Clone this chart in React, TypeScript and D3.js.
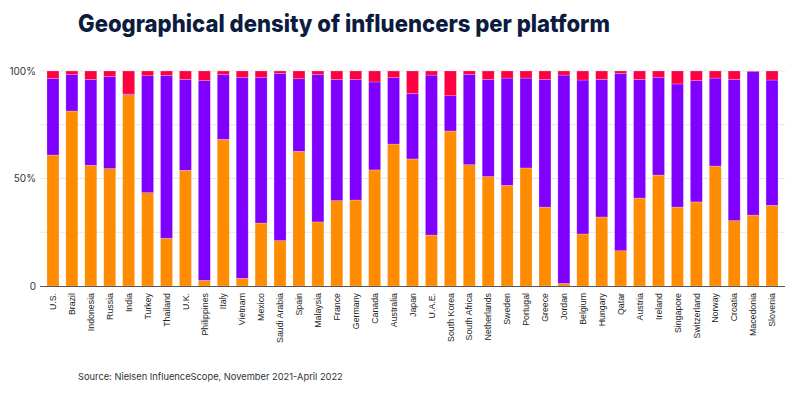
import React, { useRef, useEffect } from "react";
import * as d3 from "d3";

const countries = [
  "U.S.", "Brazil", "Indonesia", "Russia", "India", "Turkey", "Thailand", "U.K.",
  "Philippines", "Italy", "Vietnam", "Mexico", "Saudi Arabia", "Spain", "Malaysia",
  "France", "Germany", "Canada", "Australia", "Japan", "U.A.E.", "South Korea",
  "South Africa", "Netherlands", "Sweden", "Portugal", "Greece", "Jordan", "Belgium",
  "Hungary", "Qatar", "Austria", "Ireland", "Singapore", "Switzerland", "Norway",
  "Croatia", "Macedonia", "Slovenia",
];

// share of influencers (%) per platform, per country
const orangeShare = [
  60.9, 81.4, 56.1, 54.6, 89.0, 43.4, 22.2, 53.8, 2.6, 68.2, 3.6, 29.3, 21.1, 62.6,
  29.8, 39.7, 40.0, 54.0, 66.0, 59.1, 23.7, 72.1, 56.4, 50.9, 46.8, 54.9, 36.7, 1.2,
  24.2, 32.1, 16.4, 40.9, 51.6, 36.7, 39.1, 55.8, 30.4, 33.0, 37.5,
];
const purpleShare = [
  35.7, 16.9, 40.0, 42.8, 0.3, 54.4, 75.8, 42.3, 92.9, 30.1, 93.5, 67.8, 77.8, 33.8,
  68.5, 56.4, 56.1, 40.9, 30.9, 30.5, 74.4, 16.4, 42.0, 45.2, 49.9, 41.8, 59.4, 96.9,
  71.6, 64.0, 82.5, 55.2, 45.5, 57.3, 56.4, 40.9, 65.7, 66.7, 58.3,
];
const redShare = countries.map((_, i) => +(100 - orangeShare[i] - purpleShare[i]).toFixed(1));

const yTicks = [0, 25, 50, 75, 100];
const yLabels = ["0", "", "50%", "", "100%"];

const seriesKeys = ["orange", "purple", "red"];
const colors = ["#ff8c00", "#8000ff", "#ff0040"];

const App = () => {
  const svgRef = useRef<SVGSVGElement>(null);

  useEffect(() => {
    const w = 800;
    const h = 396;
    const svg = d3.select(svgRef.current).attr("width", w).attr("height", h);
    svg.selectAll("*").remove();

    const rows = countries.map((c, i) => ({
      country: c,
      orange: orangeShare[i],
      purple: purpleShare[i],
      red: redShare[i],
    }));

    const x = d3
      .scaleBand()
      .domain(countries)
      .range([39.4, 785.6])
      .paddingInner(0.366)
      .paddingOuter(0.4);
    const y = d3.scaleLinear().domain([0, 100]).range([286, 71]);

    // title
    svg
      .append("text")
      .attr("x", 78)
      .attr("y", 32)
      .attr("font-family", "Inter, sans-serif")
      .attr("font-weight", 800)
      .attr("font-size", 24)
      .attr("fill", "#0b1c3f")
      .attr("textLength", 532)
      .attr("lengthAdjust", "spacingAndGlyphs")
      .text("Geographical density of influencers per platform");

    // grid
    svg
      .append("g")
      .selectAll("line")
      .data(yTicks.filter((d) => d > 0))
      .join("line")
      .attr("x1", 40)
      .attr("x2", 785)
      .attr("y1", (d) => y(d))
      .attr("y2", (d) => y(d))
      .attr("stroke", "#e6e6e6")
      .attr("stroke-width", 1);

    // y labels
    svg
      .append("g")
      .selectAll("text")
      .data(yTicks)
      .join("text")
      .attr("x", 36)
      .attr("y", (d) => y(d) + 3.5)
      .attr("text-anchor", "end")
      .attr("font-family", "Inter, sans-serif")
      .attr("font-size", 10)
      .attr("fill", "#333")
      .text((d, i) => yLabels[i]);

    // stacked bars
    const stack = d3.stack<any>().keys(seriesKeys)(rows);
    svg
      .append("g")
      .selectAll("g")
      .data(stack)
      .join("g")
      .attr("fill", (d, i) => colors[i])
      .selectAll("rect")
      .data((d) => d)
      .join("rect")
      .attr("x", (d: any) => x(d.data.country)!)
      .attr("width", x.bandwidth())
      .attr("y", (d) => y(d[1]))
      .attr("height", (d) => Math.max(0, y(d[0]) - y(d[1])))
      .attr("stroke", "#fff")
      .attr("stroke-opacity", 0.35)
      .attr("stroke-width", 0.6);

    // baseline
    svg
      .append("line")
      .attr("x1", 40)
      .attr("x2", 785)
      .attr("y1", y(0) + 0.5)
      .attr("y2", y(0) + 0.5)
      .attr("stroke", "#555")
      .attr("stroke-width", 1);

    // x labels
    svg
      .append("g")
      .selectAll("text")
      .data(countries)
      .join("text")
      .attr("transform", (d) => `translate(${x(d)! + x.bandwidth() / 2 + 3.2}, 293) rotate(-90)`)
      .attr("text-anchor", "end")
      .attr("font-family", "Liberation Sans, Arial, sans-serif")
      .attr("font-size", 8.8)
      .attr("fill", "#222")
      .text((d) => d);

    // source
    svg
      .append("text")
      .attr("x", 78)
      .attr("y", 380)
      .attr("font-family", "Inter, sans-serif")
      .attr("font-size", 9.3)
      .attr("fill", "#333")
      .text("Source: Nielsen InfluenceScope, November 2021-April 2022");
  }, []);

  return (
    <div style={{ position: "absolute", left: 0, top: 0 }}>
      <svg ref={svgRef}></svg>
    </div>
  );
};

export default App;
